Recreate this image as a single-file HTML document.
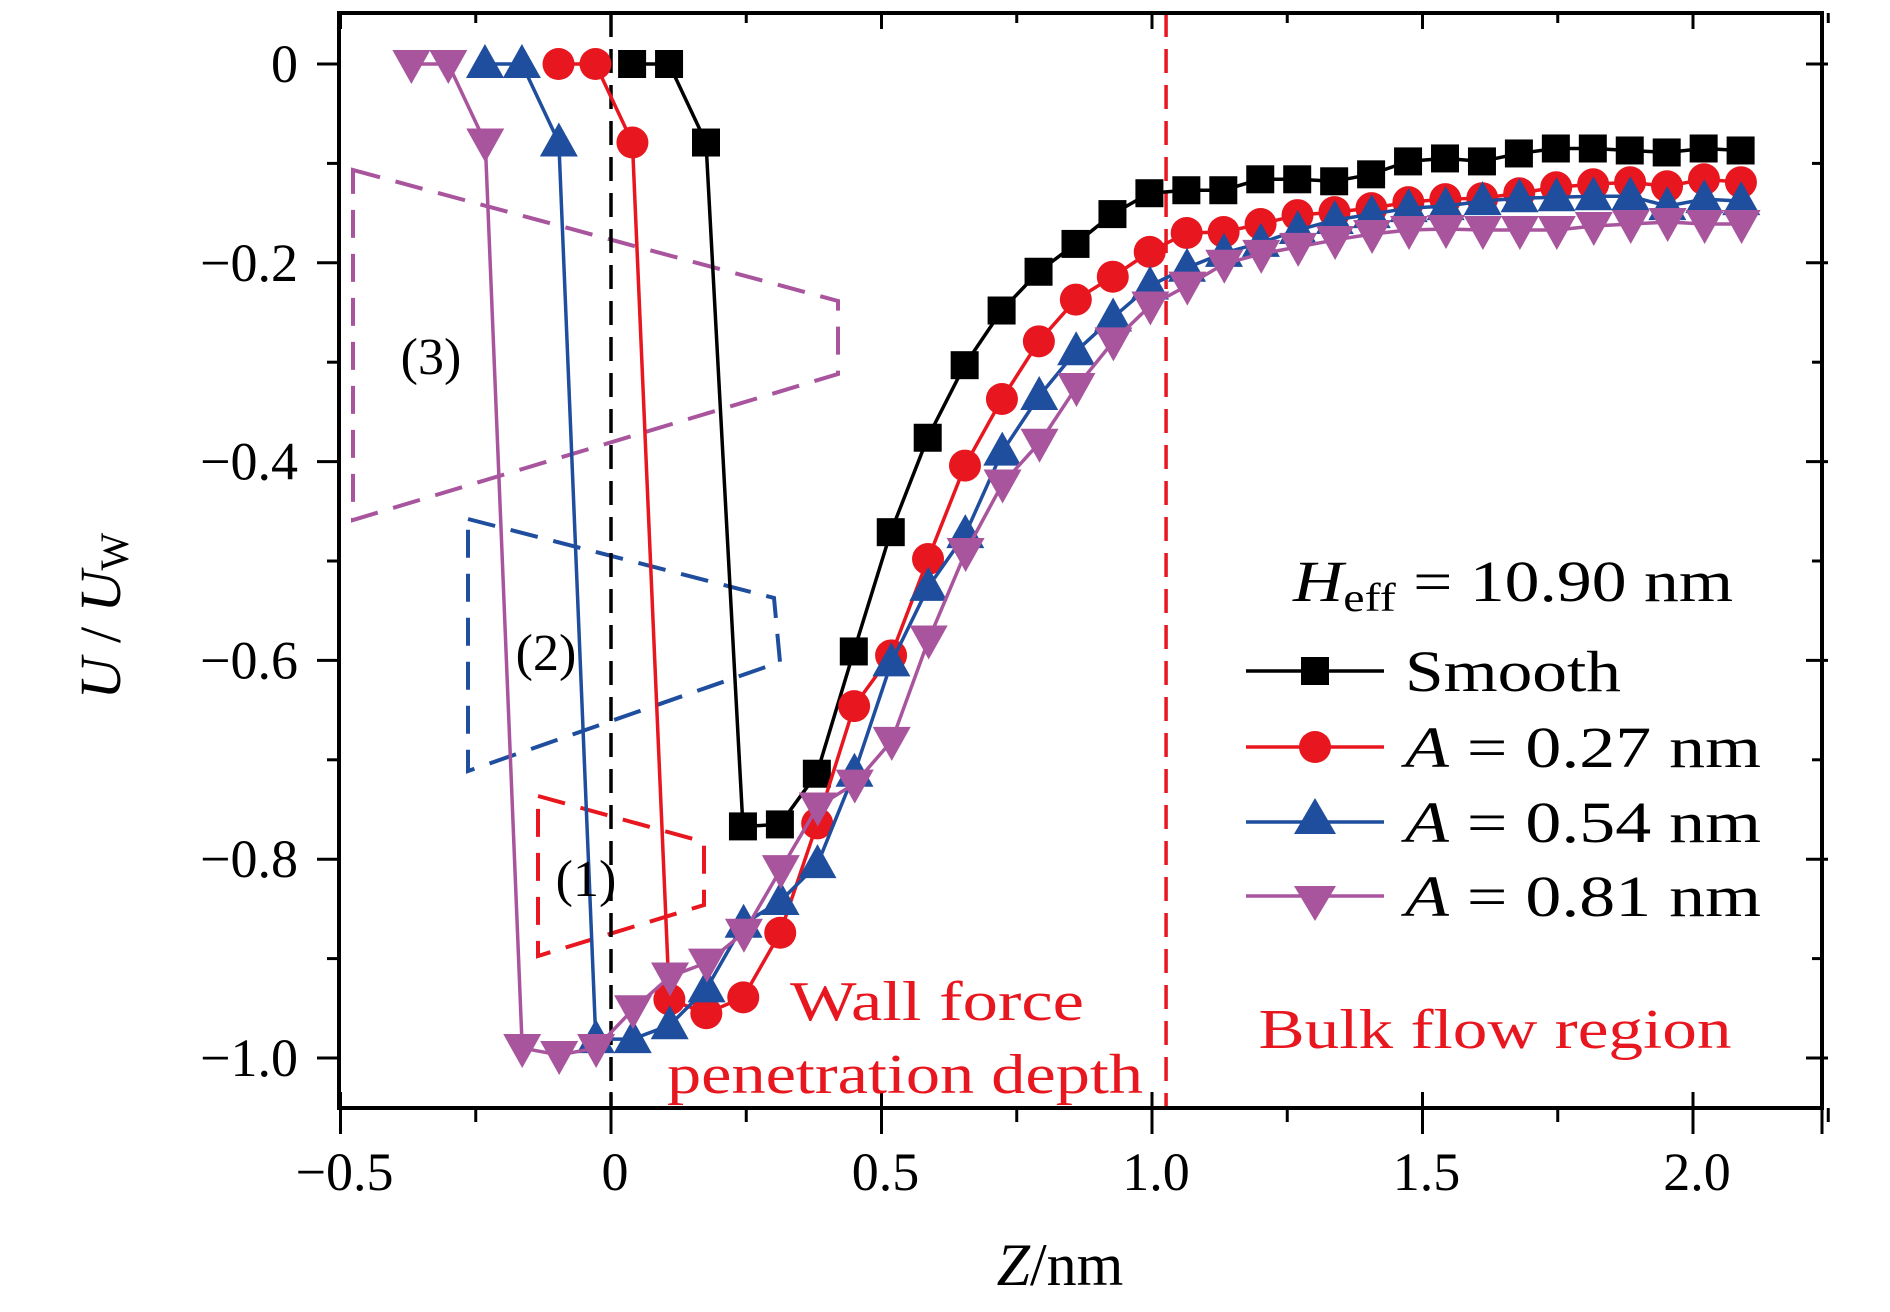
<!DOCTYPE html>
<html><head><meta charset="utf-8"><style>
html,body{margin:0;padding:0;background:#fff;}
svg{display:block;font-family:"Liberation Serif",serif;}
</style></head><body>
<svg id="chart" width="1890" height="1312" viewBox="0 0 1890 1312" xmlns="http://www.w3.org/2000/svg">
<g id="boxes"></g>
<g id="ref-lines"></g>
<g id="series"></g>
<g id="axes"></g>
<g id="texts"></g>
</svg>
<script>
const step = 0.0683;
const smoothStart = 0.039;
const smoothU = [0,0,-0.079,-0.767,-0.765,-0.714,-0.591,-0.471,-0.376,-0.303,-0.248,-0.209,-0.181,-0.151,-0.130,-0.127,-0.127,-0.116,-0.116,-0.118,-0.111,-0.098,-0.095,-0.098,-0.090,-0.085,-0.085,-0.087,-0.089,-0.085,-0.087];
const a27Start = -0.097;
const a27U = [0,0,-0.079,-0.941,-0.955,-0.939,-0.874,-0.764,-0.646,-0.595,-0.498,-0.404,-0.337,-0.279,-0.237,-0.214,-0.189,-0.170,-0.169,-0.161,-0.152,-0.149,-0.145,-0.139,-0.136,-0.135,-0.130,-0.124,-0.121,-0.119,-0.123,-0.116,-0.119];
const a54Start = -0.233;
const a54U = [0,0,-0.079,-0.981,-0.981,-0.967,-0.930,-0.865,-0.842,-0.805,-0.713,-0.602,-0.526,-0.473,-0.390,-0.334,-0.289,-0.255,-0.223,-0.205,-0.190,-0.180,-0.167,-0.157,-0.151,-0.145,-0.143,-0.138,-0.135,-0.134,-0.133,-0.133,-0.143,-0.136,-0.138];
const a81Start = -0.369;
const a81U = [0,0,-0.079,-0.990,-0.997,-0.990,-0.951,-0.918,-0.904,-0.874,-0.810,-0.747,-0.724,-0.681,-0.579,-0.491,-0.422,-0.381,-0.325,-0.279,-0.243,-0.223,-0.201,-0.191,-0.184,-0.177,-0.171,-0.167,-0.166,-0.167,-0.167,-0.167,-0.163,-0.161,-0.159,-0.161,-0.161];
const xTicks = [-0.5,0,0.5,1.0,1.5,2.0];
const xTickLabels = ["\u22120.5","0","0.5","1.0","1.5","2.0"];
const yTicks = [0,-0.2,-0.4,-0.6,-0.8,-1.0];
const yTickLabels = ["0","\u22120.2","\u22120.4","\u22120.6","\u22120.8","\u22121.0"];
const zeroLineZ = 0.0;
const bulkLineZ = 1.026;

const L=339, R=1822, T=13, B=1108;
function X(v){return 611+541*v;}
function Y(u){return 64-994*u;}
const NS="http://www.w3.org/2000/svg";
function mk(tag, attrs, parent){const e=document.createElementNS(NS,tag);for(const k in attrs)e.setAttribute(k,attrs[k]);parent.appendChild(e);return e;}

const RED="#e8161e", BLUE="#1f4e9e", PURP="#a8559e";

const gb=document.getElementById('boxes');
let b3=mk('polygon',{points:"353,170 838,301 838,374 353,520",fill:"none",stroke:PURP,"stroke-width":4,"stroke-dasharray":"28,16"},gb);

let b2=mk('polygon',{points:"468,519 774,598 780,662 468,771",fill:"none",stroke:BLUE,"stroke-width":4,"stroke-dasharray":"28,16"},gb);

let b1=mk('polygon',{points:"538,796 704,842 704,905 538,956",fill:"none",stroke:RED,"stroke-width":4,"stroke-dasharray":"28,16"},gb);


const gr=document.getElementById('ref-lines');
let zl=mk('line',{x1:X(zeroLineZ),x2:X(zeroLineZ),y1:T,y2:B,stroke:"#000","stroke-width":3.5,"stroke-dasharray":"24,12"},gr);

let bl=mk('line',{x1:X(bulkLineZ),x2:X(bulkLineZ),y1:T,y2:B,stroke:RED,"stroke-width":3.5,"stroke-dasharray":"24,12"},gr);


function marker(type,cx,cy,color,parent){
  let e;
  if(type==='sq') e=mk('rect',{x:cx-14,y:cy-14,width:28,height:28,fill:color},parent);
  else if(type==='ci') e=mk('circle',{cx:cx,cy:cy,r:16,fill:color},parent);
  else if(type==='up') e=mk('polygon',{points:`${cx},${cy-20} ${cx-19},${cy+14} ${cx+19},${cy+14}`,fill:color},parent);
  else e=mk('polygon',{points:`${cx},${cy+20} ${cx-19},${cy-14} ${cx+19},${cy-14}`,fill:color},parent);
  return e;
}
const gs=document.getElementById('series');
function series(name,start,vals,color,type){
  const g=mk('g',{},gs);
  
  
  const pts=vals.map((u,i)=>[X(start+i*step),Y(u)]);
  const pl=mk('polyline',{points:pts.map(p=>p.join(',')).join(' '),fill:"none",stroke:color,"stroke-width":3.5},g);
  
  
  pts.forEach(p=>{
    const m=marker(type,p[0],p[1],color,g);
    
    
  });
}
series('smooth',smoothStart,smoothU,"#000",'sq');
series('a-0-27',a27Start,a27U,RED,'ci');
series('a-0-54',a54Start,a54U,BLUE,'up');
series('a-0-81',a81Start,a81U,PURP,'dn');

const ga=document.getElementById('axes');
let frame=mk('rect',{x:L,y:T,width:R-L,height:B-T,fill:"none",stroke:"#000","stroke-width":4},ga);

xTicks.forEach((v,i)=>{
  const x=X(v);
  mk('line',{x1:x,x2:x,y1:B-16,y2:B+26,stroke:"#000","stroke-width":3},ga);
  mk('line',{x1:x,x2:x,y1:T,y2:T+16,stroke:"#000","stroke-width":3},ga);
  const t=mk('text',{x:x+4,y:1190,"font-size":54,"text-anchor":"middle"},ga);
  t.textContent=xTickLabels[i];
  
  const mv=v+0.25;
  if(mv<2.5){const mx=X(mv);
    mk('line',{x1:mx,x2:mx,y1:B,y2:B+14,stroke:"#000","stroke-width":3},ga);
    mk('line',{x1:mx,x2:mx,y1:T,y2:T+10,stroke:"#000","stroke-width":3},ga);}
});
mk('line',{x1:R,x2:R,y1:B,y2:B+26,stroke:"#000","stroke-width":3},ga);
yTicks.forEach((v,i)=>{
  const y=Y(v);
  mk('line',{x1:L-22,x2:L,y1:y,y2:y,stroke:"#000","stroke-width":3},ga);
  mk('line',{x1:R-16,x2:R+6,y1:y,y2:y,stroke:"#000","stroke-width":3},ga);
  const t=mk('text',{x:298,y:y+18,"font-size":54,"text-anchor":"end"},ga);
  t.textContent=yTickLabels[i];
  
  const mv=v-0.1;
  if(mv>-1.05){const my=Y(mv);
    mk('line',{x1:L-12,x2:L,y1:my,y2:my,stroke:"#000","stroke-width":3},ga);
    mk('line',{x1:R-10,x2:R,y1:my,y2:my,stroke:"#000","stroke-width":3},ga);}
});
</script>
<script>
(function(){
const NS="http://www.w3.org/2000/svg";
const gt=document.getElementById('texts');
function txt(s,x,y,size,color,name,anchor,extra){
  const t=document.createElementNS(NS,'text');
  t.setAttribute('x',x);t.setAttribute('y',y);t.setAttribute('font-size',size);
  t.setAttribute('fill',color);t.setAttribute('text-anchor',anchor||'start');
  if(extra)for(const k in extra)t.setAttribute(k,extra[k]);
  t.innerHTML=s;
  
  
  gt.appendChild(t);return t;
}
txt('(3)',431,374,52,'#000','region-3-label','middle');
txt('(2)',546,670,52,'#000','region-2-label','middle');
txt('(1)',586,896,52,'#000','region-1-label','middle');
txt('Wall force',937,1020,56,'#e8161e','wall-force-label','middle',{textLength:294,lengthAdjust:'spacingAndGlyphs'});
txt('penetration depth',905,1093,56,'#e8161e','penetration-depth-label','middle',{textLength:476,lengthAdjust:'spacingAndGlyphs'});
txt('Bulk flow region',1495,1048,56,'#e8161e','bulk-flow-label','middle',{textLength:473,lengthAdjust:'spacingAndGlyphs'});
txt('<tspan font-style="italic">H</tspan><tspan font-size="40" dy="10">eff</tspan><tspan dy="-10"> = 10.90 nm</tspan>',1293,601,58,'#000','heff-annotation','start',{textLength:440,lengthAdjust:'spacingAndGlyphs'});
txt('<tspan font-style="italic">Z</tspan>/nm',1060,1285,60,'#000','x-axis-title','middle');
txt('<tspan font-style="italic">U</tspan> / <tspan font-style="italic">U</tspan><tspan font-size="40" dy="8">W</tspan>',0,0,58,'#000','y-axis-title','middle',{transform:'translate(120,616) rotate(-90)'});
const items=[['Smooth','#000','sq',671,216],['<tspan font-style="italic">A</tspan> = 0.27 nm','#e8161e','ci',747,356],['<tspan font-style="italic">A</tspan> = 0.54 nm','#1f4e9e','up',822,356],['<tspan font-style="italic">A</tspan> = 0.81 nm','#a8559e','dn',896,356]];
const lg=document.createElementNS(NS,'g');


gt.appendChild(lg);
items.forEach(it=>{
  const y=it[3],c=it[1];
  const l=document.createElementNS(NS,'line');
  l.setAttribute('x1',1246);l.setAttribute('x2',1384);l.setAttribute('y1',y);l.setAttribute('y2',y);
  l.setAttribute('stroke',c);l.setAttribute('stroke-width',3.5);
  
  
  lg.appendChild(l);
  let m;const cx=1315;
  if(it[2]==='sq'){m=document.createElementNS(NS,'rect');m.setAttribute('x',cx-14);m.setAttribute('y',y-14);m.setAttribute('width',28);m.setAttribute('height',28);}
  else if(it[2]==='ci'){m=document.createElementNS(NS,'circle');m.setAttribute('cx',cx);m.setAttribute('cy',y);m.setAttribute('r',16);}
  else if(it[2]==='up'){m=document.createElementNS(NS,'polygon');m.setAttribute('points',`${cx},${y-24} ${cx-21},${y+12} ${cx+21},${y+12}`);}
  else {m=document.createElementNS(NS,'polygon');m.setAttribute('points',`${cx},${y+25} ${cx-21},${y-10} ${cx+21},${y-10}`);}
  m.setAttribute('fill',c);
  
  
  lg.appendChild(m);
  const t=txt(it[0],1405,y+20,58,'#000','legend-entry','start',{textLength:it[4],lengthAdjust:'spacingAndGlyphs'});
  lg.appendChild(t);
});
})();
</script>
</body></html>
